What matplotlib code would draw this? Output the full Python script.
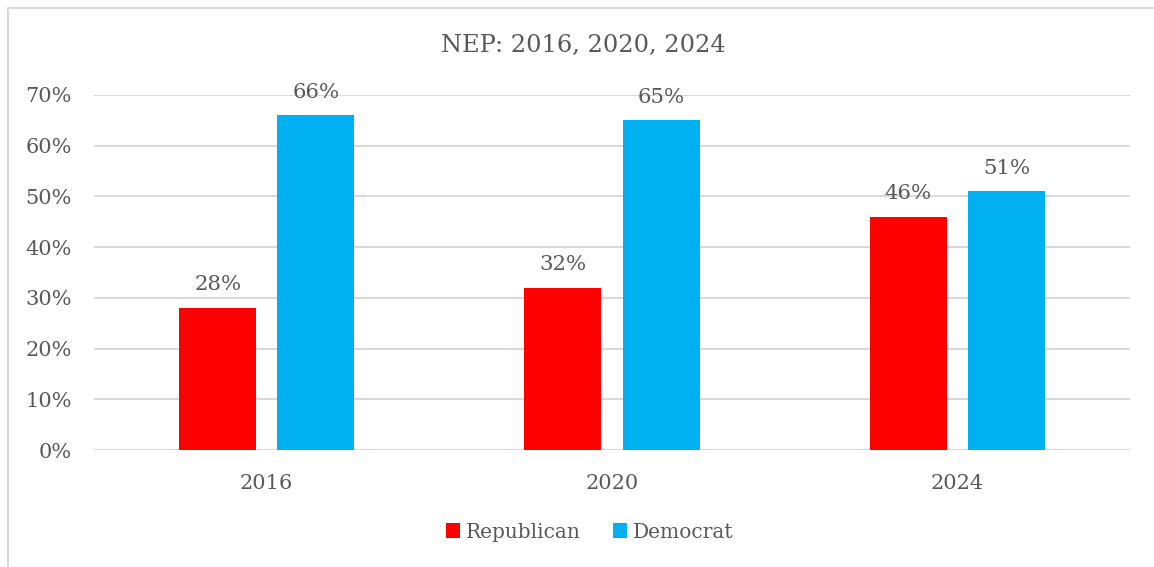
import numpy as np
import matplotlib
matplotlib.use("Agg")
import matplotlib.pyplot as plt
from matplotlib.lines import Line2D

years = ["2016", "2020", "2024"]
republican = [28, 32, 46]
democrat = [66, 65, 51]

RED = "#ff0000"
BLUE = "#00b0f0"
TXT = "#595959"
GRID = "#d9d9d9"

plt.rcParams["font.family"] = ["DejaVu Serif"]

fig = plt.figure(figsize=(11.54, 5.67), dpi=100)
ax = fig.add_axes([94 / 1154, 1 - 450 / 567, (1130 - 94) / 1154, (450 - 95) / 567])

# outer chart border: left and top edges only
bx, by = 7.5 / 1154, 1 - 7.5 / 567
fig.add_artist(Line2D([bx, bx, 1.0], [0.0, by, by], transform=fig.transFigure,
                      color=GRID, linewidth=1.5))

x = np.arange(len(years))
w = 0.223
off = 0.142
r = ax.bar(x - off, [v / 100 for v in republican], w, color=RED, label="Republican", zorder=3)
d = ax.bar(x + off, [v / 100 for v in democrat], w, color=BLUE, label="Democrat", zorder=3)

for bars, vals in ((r, republican), (d, democrat)):
    for b, v in zip(bars, vals):
        ax.text(b.get_x() + b.get_width() / 2, v / 100 + 0.027, f"{v}%",
                ha="center", va="bottom", fontsize=15.3, color=TXT)

ax.set_xlim(-0.5, 2.5)
ax.set_ylim(0, 0.7)
ax.set_yticks(np.arange(0, 0.71, 0.1))
ax.set_yticklabels([f"{int(round(t * 100))}%" for t in np.arange(0, 0.71, 0.1)])
ax.set_xticks(x)
ax.set_xticklabels(years)
ax.tick_params(axis="both", length=0, labelsize=15, colors=TXT)
ax.tick_params(axis="y", pad=16)
ax.tick_params(axis="x", pad=17)
ax.yaxis.grid(True, color=GRID, linewidth=1.5, zorder=0)
ax.set_axisbelow(True)
for s in ax.spines.values():
    s.set_visible(False)

fig.text(583 / 1154, 1 - 45 / 567, "NEP: 2016, 2020, 2024", ha="center", va="center",
         fontsize=17.4, color=TXT)

fig.legend(handles=[r, d], loc="center", bbox_to_anchor=(590 / 1154, 1 - 532 / 567),
           ncol=2, frameon=False, fontsize=14.5, labelcolor=TXT,
           handlelength=0.7, handleheight=0.7, handletextpad=0.3, columnspacing=1.6)

fig.savefig("out.png", dpi=100)
